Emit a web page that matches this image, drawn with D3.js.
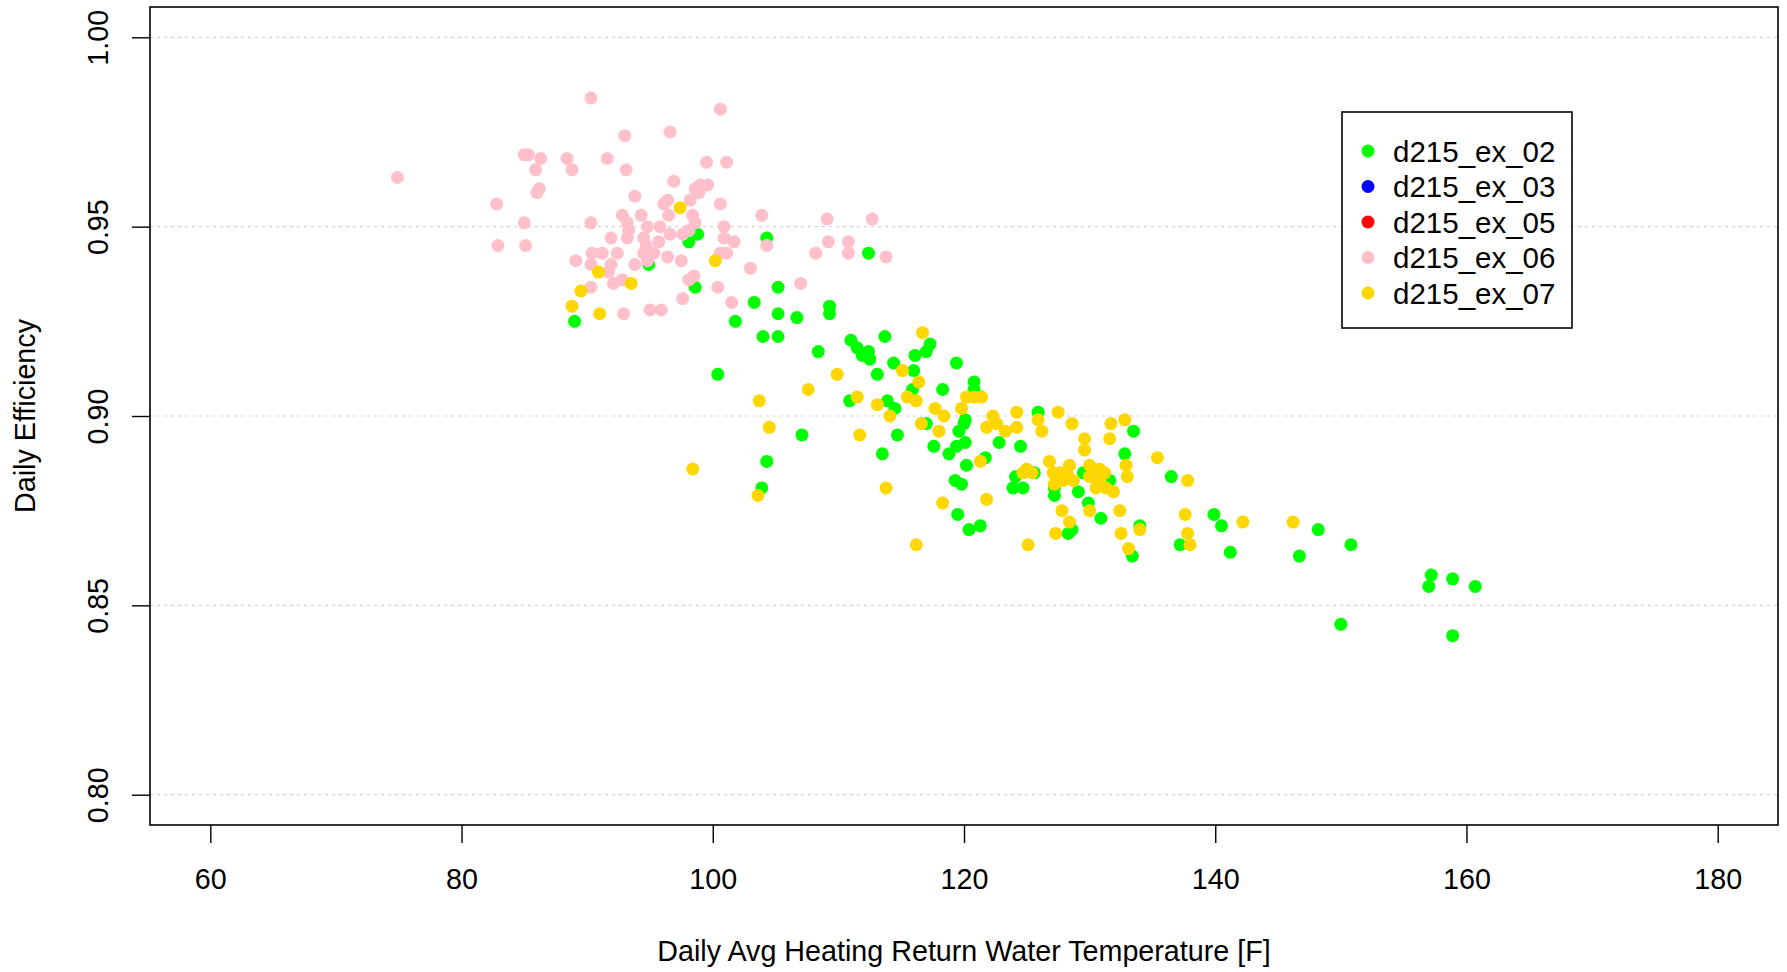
<!DOCTYPE html>
<html>
<head>
<meta charset="utf-8">
<script src="https://cdn.jsdelivr.net/npm/d3@7"></script>
<style>
  html, body { margin: 0; padding: 0; background: #fff; }
  svg { display: block; font-family: "Liberation Sans", Arial, sans-serif; }
</style>
</head>
<body>
<div id="chart"></div>
<script>
"use strict";

// axis ticks
const xTicks = [60, 80, 100, 120, 140, 160, 180];
const yTicks = [0.80, 0.85, 0.90, 0.95, 1.00];

// series names + colours (R: green, blue, red, pink, gold)
const seriesNames = ["d215_ex_02", "d215_ex_03", "d215_ex_05", "d215_ex_06", "d215_ex_07"];
const seriesColors = ["#00FF00", "#0000FF", "#FF0000", "#FFC0CB", "#FFD700"];

// [return water temp F, daily efficiency]
const ex02 = [
  [98.8,0.948],[98.1,0.946],[104.3,0.947],[112.4,0.943],[94.9,0.940],[98.6,0.934],[105.2,0.934],
  [89.0,0.925],
  [103.3,0.930],[105.2,0.927],[106.7,0.926],[109.3,0.929],[109.3,0.927],[101.8,0.925],[104.0,0.921],
  [105.2,0.921],[108.4,0.917],[111.0,0.920],[111.5,0.918],[111.9,0.916],[112.4,0.917],[112.5,0.915],
  [113.7,0.921],[114.4,0.914],[100.4,0.911],[113.1,0.911],[110.9,0.904],[113.9,0.904],[114.5,0.902],
  [107.1,0.895],[114.7,0.895],[113.5,0.890],[104.3,0.888],[103.9,0.881],
  [117.3,0.919],[117.0,0.917],[116.1,0.916],[116.0,0.912],[119.4,0.914],[115.9,0.907],[118.3,0.907],
  [120.8,0.909],[120.8,0.907],[120.1,0.899],[120.0,0.898],[119.6,0.896],[120.1,0.893],[119.4,0.892],
  [118.8,0.890],[117.0,0.898],[117.6,0.892],[122.8,0.893],[124.5,0.892],[125.9,0.901],[133.5,0.896],
  [132.8,0.890],[120.2,0.887],[121.7,0.889],
  [119.3,0.883],[119.8,0.882],[119.5,0.874],[120.4,0.870],[121.3,0.871],[128.3,0.869],[128.6,0.870],
  [134.0,0.871],[133.4,0.863],[127.2,0.881],
  [125.6,0.885],[124.1,0.884],[123.9,0.881],[124.7,0.881],[129.5,0.885],[131.6,0.883],[127.2,0.879],
  [129.1,0.880],[129.9,0.877],[130.9,0.873],
  [136.5,0.884],[137.2,0.866],[139.9,0.874],[140.5,0.871],[141.2,0.864],[148.2,0.870],[146.7,0.863],
  [150.8,0.866],[150.0,0.845],[157.2,0.858],[157.0,0.855],[158.9,0.857],[160.7,0.855],[158.9,0.842]
];
const ex03 = [];
const ex05 = [];
const ex06 = [
  [90.3,0.984],[93.0,0.974],[85.0,0.969],[85.3,0.969],[86.3,0.968],[85.9,0.965],[88.4,0.968],[88.8,0.965],
  [91.6,0.968],[93.1,0.965],[74.9,0.963],[86.2,0.960],[86.0,0.959],[82.8,0.956],[93.8,0.958],[85.0,0.951],
  [90.3,0.951],[92.8,0.953],[93.2,0.951],[93.3,0.949],[93.2,0.947],[94.3,0.953],[91.9,0.947],[82.9,0.945],
  [85.1,0.945],[90.4,0.943],[91.2,0.943],[92.4,0.943],[89.1,0.941],[90.3,0.940],[91.9,0.940],[91.7,0.938],
  [93.8,0.940],[92.1,0.935],[92.8,0.936],[90.3,0.934],
  [100.6,0.981],[96.6,0.975],[99.5,0.967],[101.1,0.967],[96.9,0.962],[98.6,0.960],[99.0,0.961],[99.6,0.961],
  [98.9,0.959],[98.2,0.957],[96.4,0.957],[96.1,0.956],[100.6,0.956],[96.5,0.953],[98.4,0.953],[98.6,0.951],
  [100.9,0.950],[103.9,0.953],[94.8,0.950],[95.8,0.950],[94.5,0.947],[96.6,0.948],[97.6,0.948],[98.1,0.949],
  [95.7,0.946],[100.9,0.947],[101.7,0.946],[104.3,0.945],[109.1,0.952],[112.7,0.952],[109.2,0.946],
  [110.8,0.946],[108.2,0.943],[110.8,0.943],[113.8,0.942],[94.7,0.945],[95.3,0.943],[94.5,0.943],
  [94.8,0.941],[96.4,0.942],[97.5,0.941],[100.6,0.943],[101.1,0.943],[103.0,0.939],[98.5,0.937],
  [98.1,0.936],[100.4,0.934],[107.0,0.935],
  [92.9,0.927],[95.0,0.928],[95.9,0.928],[97.6,0.931],[101.5,0.930]
];
const ex07 = [
  [90.9,0.938],[93.5,0.935],[89.5,0.933],[88.8,0.929],[91.0,0.927],[97.4,0.955],[100.2,0.941],
  [109.9,0.911],[107.6,0.907],[103.7,0.904],[111.5,0.905],[113.1,0.903],[114.1,0.900],[104.5,0.897],
  [111.7,0.895],[98.4,0.886],[103.6,0.879],[113.8,0.881],
  [116.7,0.922],[115.1,0.912],[116.4,0.909],[120.2,0.905],[120.8,0.905],[121.4,0.905],[115.5,0.905],
  [116.2,0.904],[117.7,0.902],[118.4,0.900],[119.8,0.902],[116.6,0.898],[118.0,0.896],[122.3,0.900],
  [122.6,0.898],[121.8,0.897],[124.2,0.901],[124.2,0.897],[123.3,0.896],[125.9,0.899],[126.2,0.896],
  [127.5,0.901],[128.6,0.898],[129.6,0.894],[129.6,0.891],[131.7,0.898],[131.6,0.894],[132.8,0.899],
  [135.4,0.889],[121.3,0.888],
  [118.3,0.877],[121.8,0.878],[116.2,0.866],[125.1,0.866],[128.4,0.872],[127.3,0.869],[132.5,0.869],
  [134.0,0.870],[133.1,0.865],
  [126.8,0.888],[128.4,0.887],[125.0,0.886],[124.7,0.885],[125.4,0.885],[127.1,0.885],[127.6,0.885],
  [128.2,0.885],[127.4,0.883],[127.9,0.883],[128.7,0.883],[127.2,0.882],[130.0,0.887],[130.8,0.886],
  [131.2,0.885],[130.0,0.884],[130.8,0.883],[130.5,0.881],[131.3,0.881],[131.9,0.880],[127.8,0.875],
  [130.0,0.875],[132.4,0.875],[132.9,0.887],[133.0,0.884],
  [137.8,0.883],[137.6,0.874],[137.8,0.869],[138.0,0.866],[142.2,0.872],[146.2,0.872]
];
const seriesData = [ex02, ex03, ex05, ex06, ex07];

const svgWidth = 1787,
    svgHeight = 972;
const plot = { left: 150, right: 1778, top: 7, bottom: 825 };
const fontSize = 28.7,
    pointR = 6.5;

const svg = d3.select("#chart").append("svg")
    .attr("width", svgWidth)
    .attr("height", svgHeight);

svg.append("rect").attr("width", svgWidth).attr("height", svgHeight).attr("fill", "#fff");

// R style 4% padding on xlim/ylim
const x = d3.scaleLinear().domain([60 - 4.8, 180 + 4.8]).range([plot.left, plot.right]);
const y = d3.scaleLinear().domain([0.8 - 0.008, 1.0 + 0.008]).range([plot.bottom, plot.top]);

// grid lines (horizontal only, dotted)
svg.append("g")
    .selectAll("line")
    .data(yTicks)
    .enter()
    .append("line")
    .attr("x1", plot.left)
    .attr("x2", plot.right)
    .attr("y1", d => y(d))
    .attr("y2", d => y(d))
    .attr("stroke", "#d3d3d3")
    .attr("stroke-width", 1.2)
    .attr("stroke-dasharray", "3,4");

// points
const series = svg.append("g")
    .selectAll("g")
    .data(seriesData)
    .enter()
    .append("g")
    .attr("fill", (d, i) => seriesColors[i]);

series.selectAll("circle")
    .data(d => d)
    .enter()
    .append("circle")
    .attr("cx", d => x(d[0]))
    .attr("cy", d => y(d[1]))
    .attr("r", pointR);

// box
svg.append("rect")
    .attr("x", plot.left)
    .attr("y", plot.top)
    .attr("width", plot.right - plot.left)
    .attr("height", plot.bottom - plot.top)
    .attr("fill", "none")
    .attr("stroke", "#000")
    .attr("stroke-width", 1.6);

// x axis
const xAxis = svg.append("g")
    .attr("transform", "translate(0," + plot.bottom + ")")
    .call(d3.axisBottom(x).tickValues(xTicks).tickSize(18).tickFormat(d3.format("d")));
xAxis.select(".domain").remove();
xAxis.selectAll("line").attr("stroke", "#000").attr("stroke-width", 1.4);
xAxis.selectAll("text")
    .attr("y", 54)
    .attr("dy", "0.35em")
    .attr("fill", "#000")
    .style("font-size", fontSize + "px")
    .style("font-family", "'Liberation Sans', Arial, sans-serif");

// y axis, labels parallel to axis like R
const yAxis = svg.append("g")
    .attr("transform", "translate(" + plot.left + ",0)")
    .call(d3.axisLeft(y).tickValues(yTicks).tickSize(18).tickFormat(d3.format(".2f")));
yAxis.select(".domain").remove();
yAxis.selectAll("line").attr("stroke", "#000").attr("stroke-width", 1.4);
yAxis.selectAll("text")
    .attr("x", 0)
    .attr("dy", null)
    .attr("transform", "translate(-52,0) rotate(-90)")
    .attr("text-anchor", "middle")
    .attr("dominant-baseline", "central")
    .attr("fill", "#000")
    .style("font-size", fontSize + "px")
    .style("font-family", "'Liberation Sans', Arial, sans-serif");

// axis titles
svg.append("text")
    .attr("x", (plot.left + plot.right) / 2)
    .attr("y", 951)
    .attr("text-anchor", "middle")
    .attr("dominant-baseline", "central")
    .style("font-size", fontSize + "px")
    .text("Daily Avg Heating Return Water Temperature [F]");

svg.append("text")
    .attr("transform", "translate(25," + (plot.top + plot.bottom) / 2 + ") rotate(-90)")
    .attr("text-anchor", "middle")
    .attr("dominant-baseline", "central")
    .style("font-size", fontSize + "px")
    .text("Daily Efficiency");

// legend
const legend = svg.append("g").attr("transform", "translate(1342,112)");
legend.append("rect")
    .attr("width", 230)
    .attr("height", 216)
    .attr("fill", "#fff")
    .attr("stroke", "#000")
    .attr("stroke-width", 1.6);

const items = legend.selectAll(".item")
    .data(seriesNames)
    .enter()
    .append("g")
    .attr("class", "item")
    .attr("transform", (d, i) => "translate(0," + (39 + i * 35.5) + ")");

items.append("circle")
    .attr("cx", 26)
    .attr("r", pointR)
    .attr("fill", (d, i) => seriesColors[i]);

items.append("text")
    .attr("x", 51)
    .attr("dominant-baseline", "central")
    .style("font-size", "29.5px")
    .text(d => d);
</script>
</body>
</html>
